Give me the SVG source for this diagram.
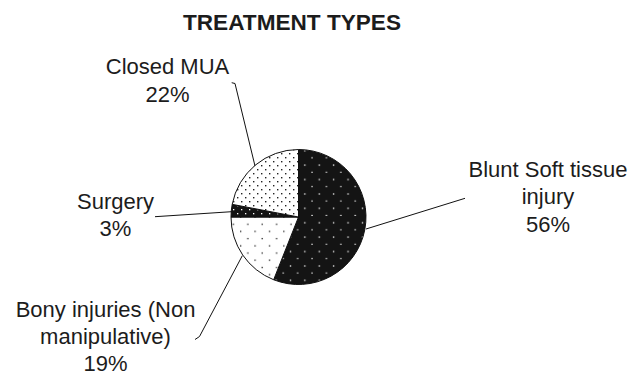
<svg xmlns="http://www.w3.org/2000/svg" width="630" height="374" viewBox="0 0 630 374">
<style>
text{font-family:"Liberation Sans",Arial,sans-serif;font-size:22px;fill:#1c1c1c;text-anchor:middle}
.title{font-weight:bold;font-size:22.6px}
.slice{stroke:#111;stroke-width:1}
.lead{fill:none;stroke:#111;stroke-width:1}
</style>
<defs>
<pattern id="darkWide" patternUnits="userSpaceOnUse" width="14.4" height="14.4">
<rect width="14.4" height="14.4" fill="#141414"/>
<rect x="9" y="13.3" width="1.3" height="1.3" fill="#fff"/>
<rect x="1.8" y="6.1" width="1.3" height="1.3" fill="#fff"/>
</pattern>
<pattern id="lightWide" patternUnits="userSpaceOnUse" width="14.4" height="14.4">
<rect width="14.4" height="14.4" fill="#fff"/>
<rect x="2.4" y="7.6" width="1.3" height="1.3" fill="#222"/>
<rect x="9.6" y="0.4" width="1.3" height="1.3" fill="#222"/>
</pattern>
<pattern id="lightDense" patternUnits="userSpaceOnUse" width="8" height="8">
<rect width="8" height="8" fill="#fff"/>
<rect x="1" y="1" width="1.4" height="1.4" fill="#222"/>
<rect x="5" y="5" width="1.4" height="1.4" fill="#222"/>
</pattern>
<pattern id="darkDense" patternUnits="userSpaceOnUse" width="8" height="8">
<rect width="8" height="8" fill="#141414"/>
<rect x="1" y="1" width="1.3" height="1.3" fill="#fff"/>
<rect x="5" y="5" width="1.3" height="1.3" fill="#fff"/>
</pattern>
</defs>
<rect width="630" height="374" fill="#fff"/>
<g id="title"><text class="title" x="292" y="30">TREATMENT TYPES</text></g>
<g id="blunt">
<path class="slice" fill="url(#darkWide)" d="M298.5,217 L298.5,149.5 A67.5,67.5 0 1 1 273.65,279.76 Z"/>
<text x="548" y="176.7">Blunt Soft tissue</text>
<text x="548" y="204.2">injury</text>
<text x="548" y="231.7">56%</text>
</g>
<g id="bony">
<path class="slice" fill="url(#lightWide)" d="M298.5,217 L273.65,279.76 A67.5,67.5 0 0 1 231,217 Z"/>
<text x="105.5" y="317">Bony injuries (Non</text>
<text x="105.5" y="344">manipulative)</text>
<text x="105.5" y="370.5">19%</text>
</g>
<g id="surgery">
<path class="slice" fill="url(#darkDense)" d="M298.5,217 L231,217 A67.5,67.5 0 0 1 232.19,204.35 Z"/>
<text x="115.5" y="208.5">Surgery</text>
<text x="115.5" y="236">3%</text>
</g>
<g id="closed-mua">
<path class="slice" fill="url(#lightDense)" d="M298.5,217 L232.19,204.35 A67.5,67.5 0 0 1 298.5,149.5 Z"/>
<text x="167.5" y="74">Closed MUA</text>
<text x="167.5" y="101.5">22%</text>
</g>
<g id="connectors">
<polyline class="lead" points="231.7,82.7 235,83.5 255,166"/>
<line class="lead" x1="155" y1="216.7" x2="231.7" y2="211.7"/>
<polyline class="lead" points="195,339.5 199.5,336.5 242.3,255.7"/>
<line class="lead" x1="465" y1="198.3" x2="366" y2="229"/>
</g>
</svg>
